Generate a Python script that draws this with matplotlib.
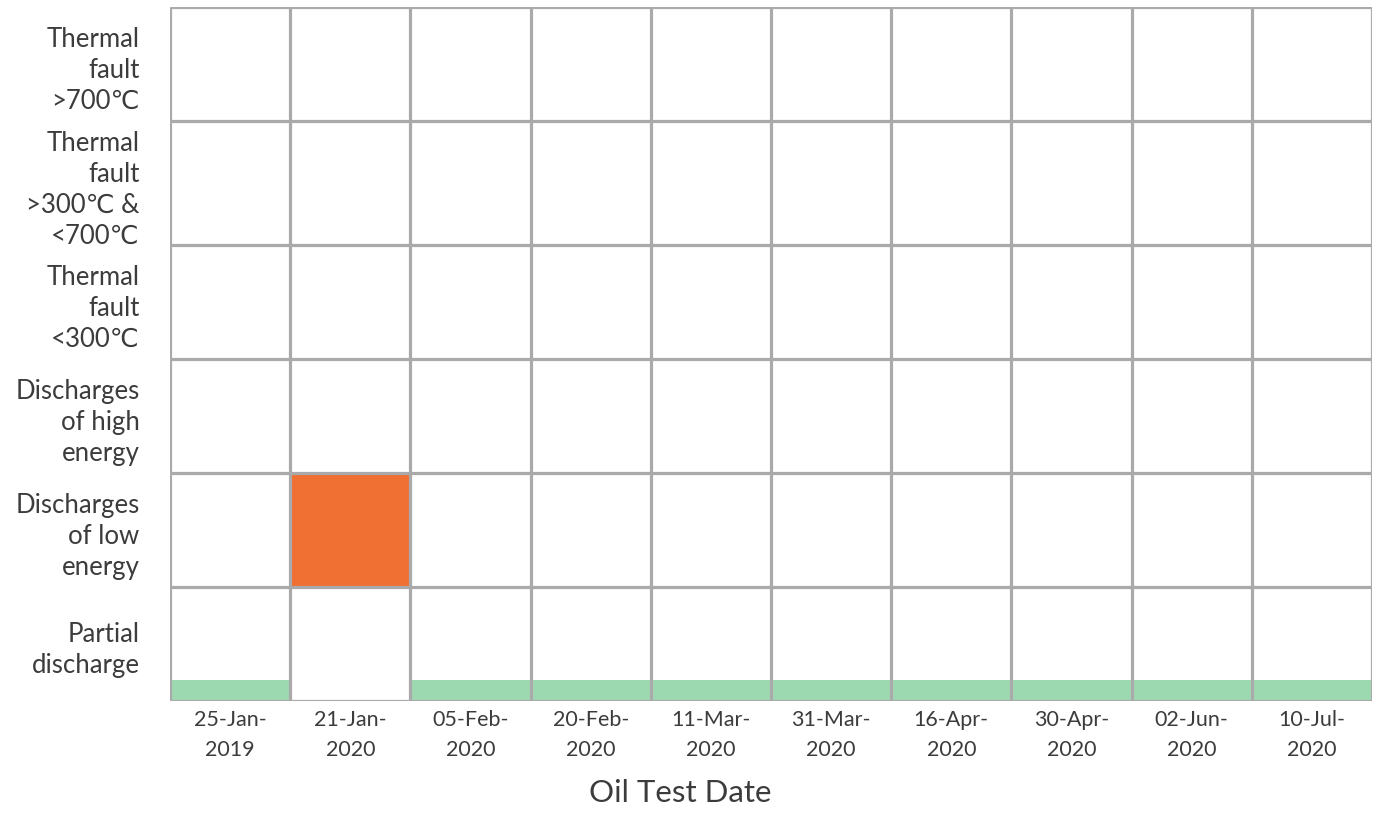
import matplotlib
matplotlib.use("Agg")
import matplotlib.pyplot as plt

# ---------------------------------------------------------------------------
# Data
# ---------------------------------------------------------------------------
test_dates = [
    "25-Jan-\n2019", "21-Jan-\n2020", "05-Feb-\n2020", "20-Feb-\n2020",
    "11-Mar-\n2020", "31-Mar-\n2020", "16-Apr-\n2020", "30-Apr-\n2020",
    "02-Jun-\n2020", "10-Jul-\n2020",
]
# bottom to top
fault_types = [
    "Partial\ndischarge",
    "Discharges\nof low\nenergy",
    "Discharges\nof high\nenergy",
    "Thermal\nfault\n<300\u2103",
    "Thermal\nfault\n>300\u2103 &\n<700\u2103",
    "Thermal\nfault\n>700\u2103",
]
# detected fault per test date (None = no fault / normal)
detected_fault = [None, "Discharges\nof low\nenergy", None, None, None,
                  None, None, None, None, None]

# ---------------------------------------------------------------------------
# Styling
# ---------------------------------------------------------------------------
ROW_HEIGHTS = [114, 114, 114, 114, 124, 114]   # bottom to top, px-like units
NORMAL_BAR_FRAC = 0.18
FAULT_COLOR = "#f07033"
NORMAL_COLOR = "#9dd9b0"
GRID_COLOR = "#aaaaaa"
TEXT_COLOR = "#3c3c3c"
FONT = ["Lato", "Liberation Serif", "DejaVu Sans"]

plt.rcParams["font.family"] = FONT

fig = plt.figure(figsize=(13.79, 8.37), dpi=100)
ax = fig.add_axes([170 / 1379, 1 - 702 / 837, 1202 / 1379, 694 / 837])

edges = [0]
for h in ROW_HEIGHTS:
    edges.append(edges[-1] + h)
centers = [(edges[i] + edges[i + 1]) / 2 for i in range(len(ROW_HEIGHTS))]

cols = list(range(len(test_dates)))
for c, fault in zip(cols, detected_fault):
    if fault is None:
        ax.bar(c, ROW_HEIGHTS[0] * NORMAL_BAR_FRAC, bottom=edges[0], width=1,
               color=NORMAL_COLOR, zorder=1)
    else:
        r = fault_types.index(fault)
        ax.bar(c, ROW_HEIGHTS[r], bottom=edges[r], width=1,
               color=FAULT_COLOR, zorder=1)

ax.vlines([c - 0.5 for c in cols] + [cols[-1] + 0.5], edges[0], edges[-1],
          color=GRID_COLOR, linewidth=2.3, zorder=3)
ax.hlines(edges, -0.5, cols[-1] + 0.5, color=GRID_COLOR, linewidth=2.3, zorder=3)

ax.set_xlim(-0.5, cols[-1] + 0.5)
ax.set_ylim(edges[0], edges[-1])
for s in ax.spines.values():
    s.set_visible(False)

ax.set_xticks(cols)
ax.set_xticklabels(test_dates, fontsize=15.5, color=TEXT_COLOR, linespacing=1.6)
ax.set_yticks(centers)
ax.set_yticklabels(fault_types, fontsize=18.5, color=TEXT_COLOR, linespacing=1.3,
                   ha="right")
ax.tick_params(axis="both", length=0)
ax.tick_params(axis="x", pad=6)
ax.tick_params(axis="y", pad=22)

fig.text(680 / 1379, 1 - 793 / 837, "Oil Test Date", ha="center", va="center",
         fontsize=22.5, color=TEXT_COLOR)

fig.savefig("out.png", dpi=100, facecolor="white")
